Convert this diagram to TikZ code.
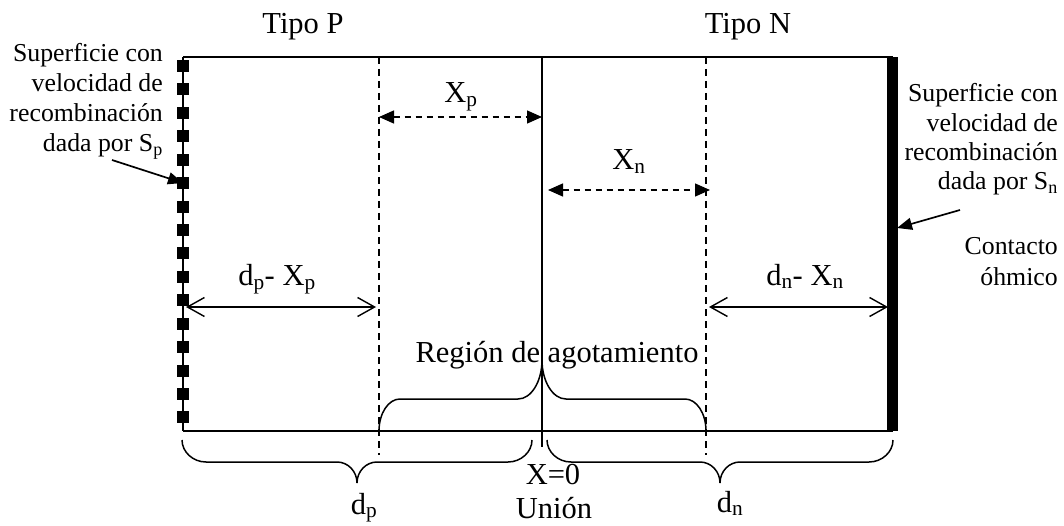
\documentclass[tikz,border=0pt]{standalone}
\usepackage{fontspec}
\setmainfont{Liberation Serif}
\usetikzlibrary{arrows.meta}
\begin{document}
\begin{tikzpicture}[x=1pt,y=-1pt,
  frame/.style={line width=1.6pt},
  junc/.style={line width=1.3pt},
  dline/.style={line width=1.5pt, dash pattern=on 7pt off 5pt},
  xarrow/.style={line width=1.4pt, dash pattern=on 6pt off 5pt,
     {Triangle[length=15pt,width=13pt]}-{Triangle[length=15pt,width=13pt]}},
  dimarrow/.style={line width=1.4pt,
     {Straight Barb[length=17pt,width=19pt]}-{Straight Barb[length=17pt,width=19pt]}},
  ptr/.style={line width=1.7pt, -{Triangle[length=15pt,width=12pt]}},
  bracestyle/.style={line width=1.5pt},
  lbl/.style={inner sep=0pt, font=\fontsize{30.5}{36}\selectfont},
  side/.style={inner sep=0pt, font=\fontsize{25.8}{30}\selectfont},
  sq/.style={fill=black, minimum width=12pt, minimum height=12pt, inner sep=0pt}
]
\useasboundingbox (0,0) rectangle (1064,526);

% frame
\coordinate (TL) at (183,57);
\coordinate (TR) at (893,57);
\coordinate (BL) at (183,431);
\coordinate (BR) at (893,431);
\draw[frame] (TL) -- (TR);
\draw[frame] (BL) -- (BR);
\draw[frame] (TL) -- (BL);
\fill (887,57) rectangle (898,431);

% junction and depletion edges
\coordinate (J0) at (542,57);
\coordinate (J1) at (542,447);
\draw[junc] (J0) -- (J1);
\coordinate (DP0) at (379,57);
\coordinate (DP1) at (379,455);
\coordinate (DN0) at (706,57);
\coordinate (DN1) at (706,455);
\draw[dline] (DP0) -- (DP1);
\draw[dline] (DN0) -- (DN1);

% squares on left surface
\foreach \i in {0,...,15}
  \node[sq] (s\i) at (183,{66+23.43*\i}) {};

% dimension arrows
\coordinate (xpL) at (379,117);
\coordinate (xpR) at (542,117);
\draw[xarrow] (xpL) -- (xpR);
\coordinate (xnL) at (548,190);
\coordinate (xnR) at (710,190);
\draw[xarrow] (xnL) -- (xnR);
\coordinate (dpL) at (186,307);
\coordinate (dpR) at (376,307);
\draw[dimarrow] (dpL) -- (dpR);
\coordinate (dnL) at (709,307);
\coordinate (dnR) at (888,307);
\draw[dimarrow] (dnL) -- (dnR);

% labels
\node[lbl, anchor=base] (tp) at (303,34) {Tipo P};
\node[lbl, anchor=base] (tn) at (748,34) {Tipo N};
\node[lbl, anchor=base] (xp) at (461,103) {X\textsubscript{p}};
\node[lbl, anchor=base] (xn) at (629,170) {X\textsubscript{n}};
\node[lbl, anchor=base] (dpx) at (277,286) {d\textsubscript{p}- X\textsubscript{p}};
\node[lbl, anchor=base] (dnx) at (805,285) {d\textsubscript{n}- X\textsubscript{n}};
\node[lbl, anchor=base] (reg) at (557,362) {Región de agotamiento};
\node[lbl, anchor=base] (x0) at (553,484) {X=0};
\node[lbl, anchor=base] (un) at (554,518) {Unión};
\node[lbl, anchor=base] (dp) at (364,514) {d\textsubscript{p}};
\node[lbl, anchor=base] (dn) at (730,512) {d\textsubscript{n}};

% left side text
\node[side, anchor=base east] (l1) at (163,62) {Superficie con};
\node[side, anchor=base east] (l2) at (163,92) {velocidad de};
\node[side, anchor=base east] (l3) at (163,122) {recombinación};
\node[side, anchor=base east] (l4) at (163,152) {dada por S\textsubscript{p}};
\coordinate (pl0) at (112,160);
\coordinate (pl1) at (183,183);
\draw[ptr] (pl0) -- (pl1);

% right side text
\node[side, anchor=base east] (r1) at (1058,102) {Superficie con};
\node[side, anchor=base east] (r2) at (1058,131.5) {velocidad de};
\node[side, anchor=base east] (r3) at (1058,161) {recombinación};
\node[side, anchor=base east] (r4) at (1058,190) {dada por S\textsubscript{n}};
\node[side, anchor=base east] (r5) at (1058,255) {Contacto};
\node[side, anchor=base east] (r6) at (1058,285) {óhmico};
\coordinate (pr0) at (960,210);
\coordinate (pr1) at (897,228);
\draw[ptr] (pr0) -- (pr1);

% braces
\draw[bracestyle] (379,431) .. controls (379,413.3) and (388.4,399) .. (400,399)
  -- (518,399) .. controls (531.2,399) and (542,381.5) .. (542,360)
  .. controls (542,381.5) and (552.8,399) .. (566,399)
  -- (685,399) .. controls (696.6,399) and (706,413.3) .. (706,431);

\draw[bracestyle] (182,440) .. controls (182,452) and (193,462) .. (206,462)
  -- (337,462) .. controls (348,462) and (357,471.4) .. (357,483)
  .. controls (357,471.4) and (366,462) .. (377,462)
  -- (508,462) .. controls (521,462) and (532,452) .. (532,440);

\draw[bracestyle] (547,440) .. controls (547,452) and (558,462) .. (571,462)
  -- (700,462) .. controls (711,462) and (720,471.4) .. (720,483)
  .. controls (720,471.4) and (729,462) .. (740,462)
  -- (869,462) .. controls (882,462) and (893,452) .. (893,440);
\end{tikzpicture}
\end{document}
